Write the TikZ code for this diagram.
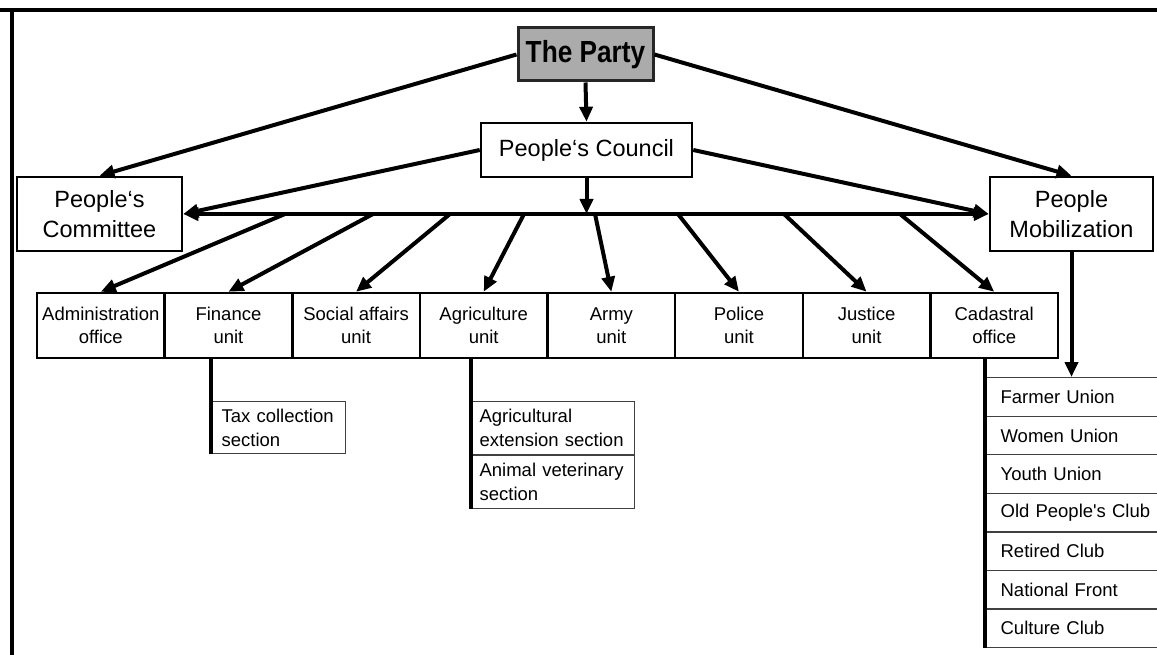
\documentclass[tikz,border=0pt]{standalone}
\usepackage{fontspec}
\setmainfont{Liberation Sans}
\newfontfamily\partyfont[FakeStretch=0.86]{Liberation Sans}
\usetikzlibrary{arrows.meta, positioning, calc}
\hyphenpenalty=10000

\tikzset{
  topbox/.style={draw=black!85, line width=3pt, fill=black!33, minimum width=135pt, minimum height=53pt, inner sep=0pt,
    font=\partyfont\bfseries\fontsize{30.5}{32}\selectfont},
  bigbox/.style={draw, line width=2.5pt, inner sep=0pt, align=center, font=\fontsize{23.5}{30}\selectfont},
  unitbox/.style={draw, line width=2.5pt, minimum width=127.6pt, minimum height=65pt, inner sep=0pt, align=center,
    font=\fontsize{18.5}{23}\selectfont},
  subbox/.style={draw=black!75, line width=1.2pt, inner xsep=8pt, inner ysep=0pt, align=left, anchor=north west,
    font=\fontsize{18.5}{24}\selectfont},
  listbox/.style={draw=black!75, line width=1.2pt, minimum height=38.6pt, text width=150pt, inner xsep=15pt, inner ysep=0pt,
    align=left, anchor=north west, font=\fontsize{18.5}{23}\selectfont},
  link/.style={line width=4pt, -{Triangle[length=15pt, width=13pt]}},
  branch/.style={line width=3.5pt}
}

\begin{document}
\begin{tikzpicture}[x=1pt, y=-1pt]
  \useasboundingbox (0,0) rectangle (1157,655);
  % frame
  \draw[line width=4pt] (0,10) -- (1157,10);
  \draw[line width=4pt] (12,10) -- (12,655);

  % top levels
  \node[topbox] (party) at (585.5,54.5) {The Party};
  \node[bigbox, minimum width=211pt, minimum height=54pt] (council) at (586.5,150) {People‘s Council};
  \node[bigbox, minimum width=165pt, minimum height=74pt] (cmte) at (99.5,214) {People‘s\\Committee};
  \node[bigbox, minimum width=163pt, minimum height=74pt] (mob) at (1071.5,214) {People\\Mobilization};

  % units
  \foreach \t [count=\i] in {{Administration\\office}, {Finance\\unit}, {Social affairs\\unit}, {Agriculture\\unit},
      {Army\\unit}, {Police\\unit}, {Justice\\unit}, {Cadastral\\office}}
    \node[unitbox] (u\i) at (37+127.625*\i-63.8, 325.5) {\t};

  % sections
  \node[subbox, inner xsep=10pt, text width=114pt, minimum height=52pt] (tax) at (211,401) {Tax collection\\section};
  \node[subbox, text width=147pt, minimum height=53pt] (ext) at (471,401) {Agricultural\\extension section};
  \node[subbox, text width=147pt, minimum height=53pt, anchor=north, below=0pt of ext] (vet) {Animal veterinary\\section};

  % mass organisations
  \foreach \t [count=\i] in {Farmer Union, Women Union, Youth Union, Old People\textquotesingle s Club, Retired Club,
      National Front, Culture Club}
    \node[listbox] (l\i) at (985, 377+38.57*\i-38.57) {\t};

  % links
  \draw[link] (party.south) -- (council.north);
  \draw[link] (party.west) -- (cmte.north);
  \draw[link] (party.east) -- (mob.north);
  \draw[link] (council.west) -- (cmte.east);
  \draw[link] (council.east) -- (mob.west);
  \draw[link, {Triangle[length=15pt, width=13pt]}-{Triangle[length=15pt, width=13pt]}] (cmte.east) -- (mob.west);
  \coordinate (bar) at (council.south |- cmte.east);
  \draw[link] (council.south) -- (bar);
  \foreach \bx [count=\i] in {285,373,450,524,595,678,784,900} {
    \coordinate (b\i) at (\bx,214);
    \draw[link] (b\i) -- (u\i.north);
  }
  \draw[branch] (tax.west |- u2.south) -- (tax.south west);
  \draw[branch] (ext.west |- u4.south) -- (vet.south west);
  \draw[branch] (l1.west |- u8.south) -- (l7.south west);
  \draw[link] (mob.south) -- (mob.south |- l1.north);
\end{tikzpicture}
\end{document}
